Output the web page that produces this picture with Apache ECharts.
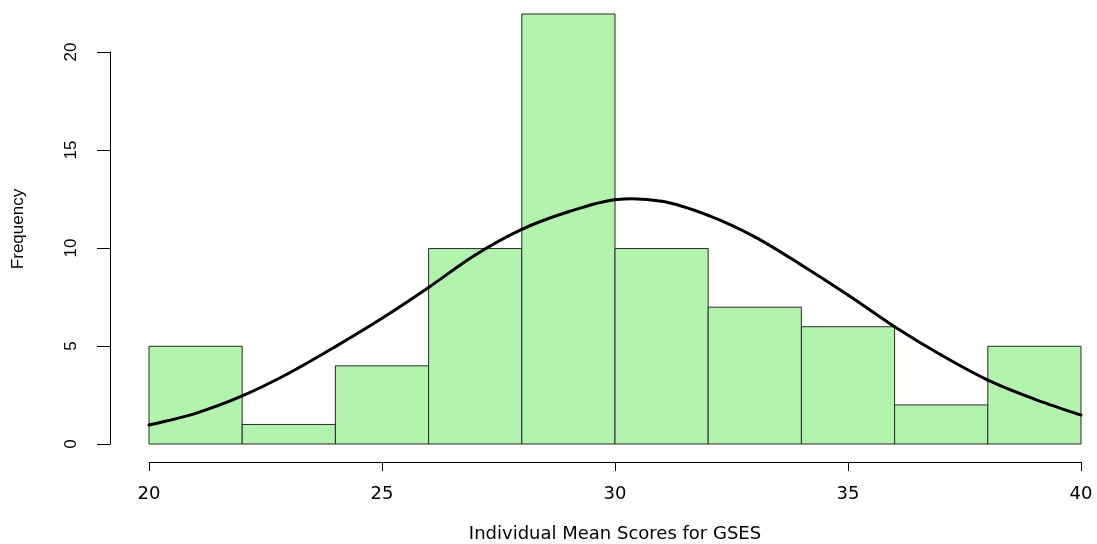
<!DOCTYPE html>
<html>
<head>
<meta charset="utf-8">
<script src="https://cdn.jsdelivr.net/npm/echarts@6/dist/echarts.min.js"></script>
<style>
html,body{margin:0;padding:0;background:#fff;}
#c{width:1097px;height:544px;}
</style>
</head>
<body>
<div id="c"></div>
<script>
// Histogram bins (left edge, right edge) and frequencies
const binStarts = [20, 22, 24, 26, 28, 30, 32, 34, 36, 38];
const binEnds   = [22, 24, 26, 28, 30, 32, 34, 36, 38, 40];
const counts    = [5, 1, 4, 10, 22, 10, 7, 6, 2, 5];

// Normal curve, points
const curveX = [20, 21, 22, 23, 24, 25, 26, 27, 28, 29, 30, 31, 32, 33, 34, 35, 36, 37, 38, 39, 40];
const curveY = [0.97, 1.57, 2.46, 3.62, 4.98, 6.43, 8.01, 9.67, 10.98, 11.88, 12.5, 12.42, 11.7, 10.6, 9.16, 7.62, 6.0, 4.55, 3.27, 2.3, 1.48];

// Axis ticks
const xTicks = [20, 25, 30, 35, 40];
const yTicks = [0, 5, 10, 15, 20];

const histData = binStarts.map((s, i) => [s, binEnds[i], counts[i]]);
const curveData = curveX.map((x, i) => [x, curveY[i]]);

const chart = echarts.init(document.getElementById('c'), null, {renderer: 'canvas'});
chart.setOption({
  backgroundColor: '#ffffff',
  animation: false,
  grid: [
    {left: 149, right: 16, top: 14, bottom: 100, containLabel: false, outerBoundsMode: 'none'},
    {left: 110, width: 10, top: 52, bottom: 100, containLabel: false, outerBoundsMode: 'none'}
  ],
  xAxis: [
    {
      gridIndex: 0, type: 'value', min: xTicks[0], max: xTicks[xTicks.length - 1], interval: 5,
      offset: 18,
      splitLine: {show: false},
      axisLine: {show: true, onZero: false, lineStyle: {color: '#000', width: 1}},
      axisTick: {show: true, inside: false, length: 9, lineStyle: {color: '#000'}},
      axisLabel: {color: '#000', fontFamily: 'DejaVu Sans', fontSize: 18, margin: 23},
      name: 'Individual Mean Scores for GSES',
      nameLocation: 'middle', nameGap: 63,
      nameTextStyle: {color: '#000', fontFamily: 'DejaVu Sans', fontSize: 18}
    },
    {gridIndex: 1, type: 'value', show: false}
  ],
  yAxis: [
    {
      gridIndex: 0, type: 'value', min: 0, max: 22,
      splitLine: {show: false},
      axisLine: {show: false}, axisTick: {show: false}, axisLabel: {show: false},
      name: 'Frequency', nameLocation: 'middle', nameGap: 122, nameRotate: 90,
      nameTextStyle: {color: '#000', fontFamily: 'Liberation Sans', fontSize: 17}
    },
    {
      gridIndex: 1, type: 'value', min: yTicks[0], max: yTicks[yTicks.length - 1], interval: 5,
      position: 'left',
      splitLine: {show: false},
      axisLine: {show: true, onZero: false, lineStyle: {color: '#000', width: 1}},
      axisTick: {show: true, inside: false, length: 13, lineStyle: {color: '#000'}},
      axisLabel: {color: '#000', fontFamily: 'Liberation Sans', fontSize: 17, rotate: 90, margin: 30}
    }
  ],
  series: [
    {
      type: 'custom',
      xAxisIndex: 0, yAxisIndex: 0,
      data: histData,
      encode: {x: [0, 1], y: 2},
      renderItem: function (params, api) {
        const p0 = api.coord([api.value(0), api.value(2)]);
        const p1 = api.coord([api.value(1), 0]);
        return {
          type: 'rect',
          shape: {x: p0[0], y: p0[1], width: p1[0] - p0[0], height: p1[1] - p0[1]},
          style: {fill: '#b2f3ad', stroke: '#2b2b2b', lineWidth: 1}
        };
      },
      z: 1
    },
    {
      type: 'custom',
      xAxisIndex: 0, yAxisIndex: 0,
      data: curveData,
      encode: {x: 0, y: 1},
      clip: false,
      renderItem: function (params, api) {
        // Draw the whole curve once (Catmull-Rom spline through the read points)
        if (params.dataIndex !== 0) return null;
        const pts = curveData.map(d => api.coord(d));
        const n = pts.length;
        const children = [];
        for (let i = 0; i < n - 1; i++) {
          const p0 = pts[Math.max(0, i - 1)];
          const p1 = pts[i];
          const p2 = pts[i + 1];
          const p3 = pts[Math.min(n - 1, i + 2)];
          children.push({
            type: 'bezierCurve',
            shape: {
              x1: p1[0], y1: p1[1], x2: p2[0], y2: p2[1],
              cpx1: p1[0] + (p2[0] - p0[0]) / 6, cpy1: p1[1] + (p2[1] - p0[1]) / 6,
              cpx2: p2[0] - (p3[0] - p1[0]) / 6, cpy2: p2[1] - (p3[1] - p1[1]) / 6
            },
            style: {stroke: '#000', lineWidth: 3, fill: null, lineCap: 'round'}
          });
        }
        return {type: 'group', children: children};
      },
      z: 5
    }
  ]
});
</script>
</body>
</html>
